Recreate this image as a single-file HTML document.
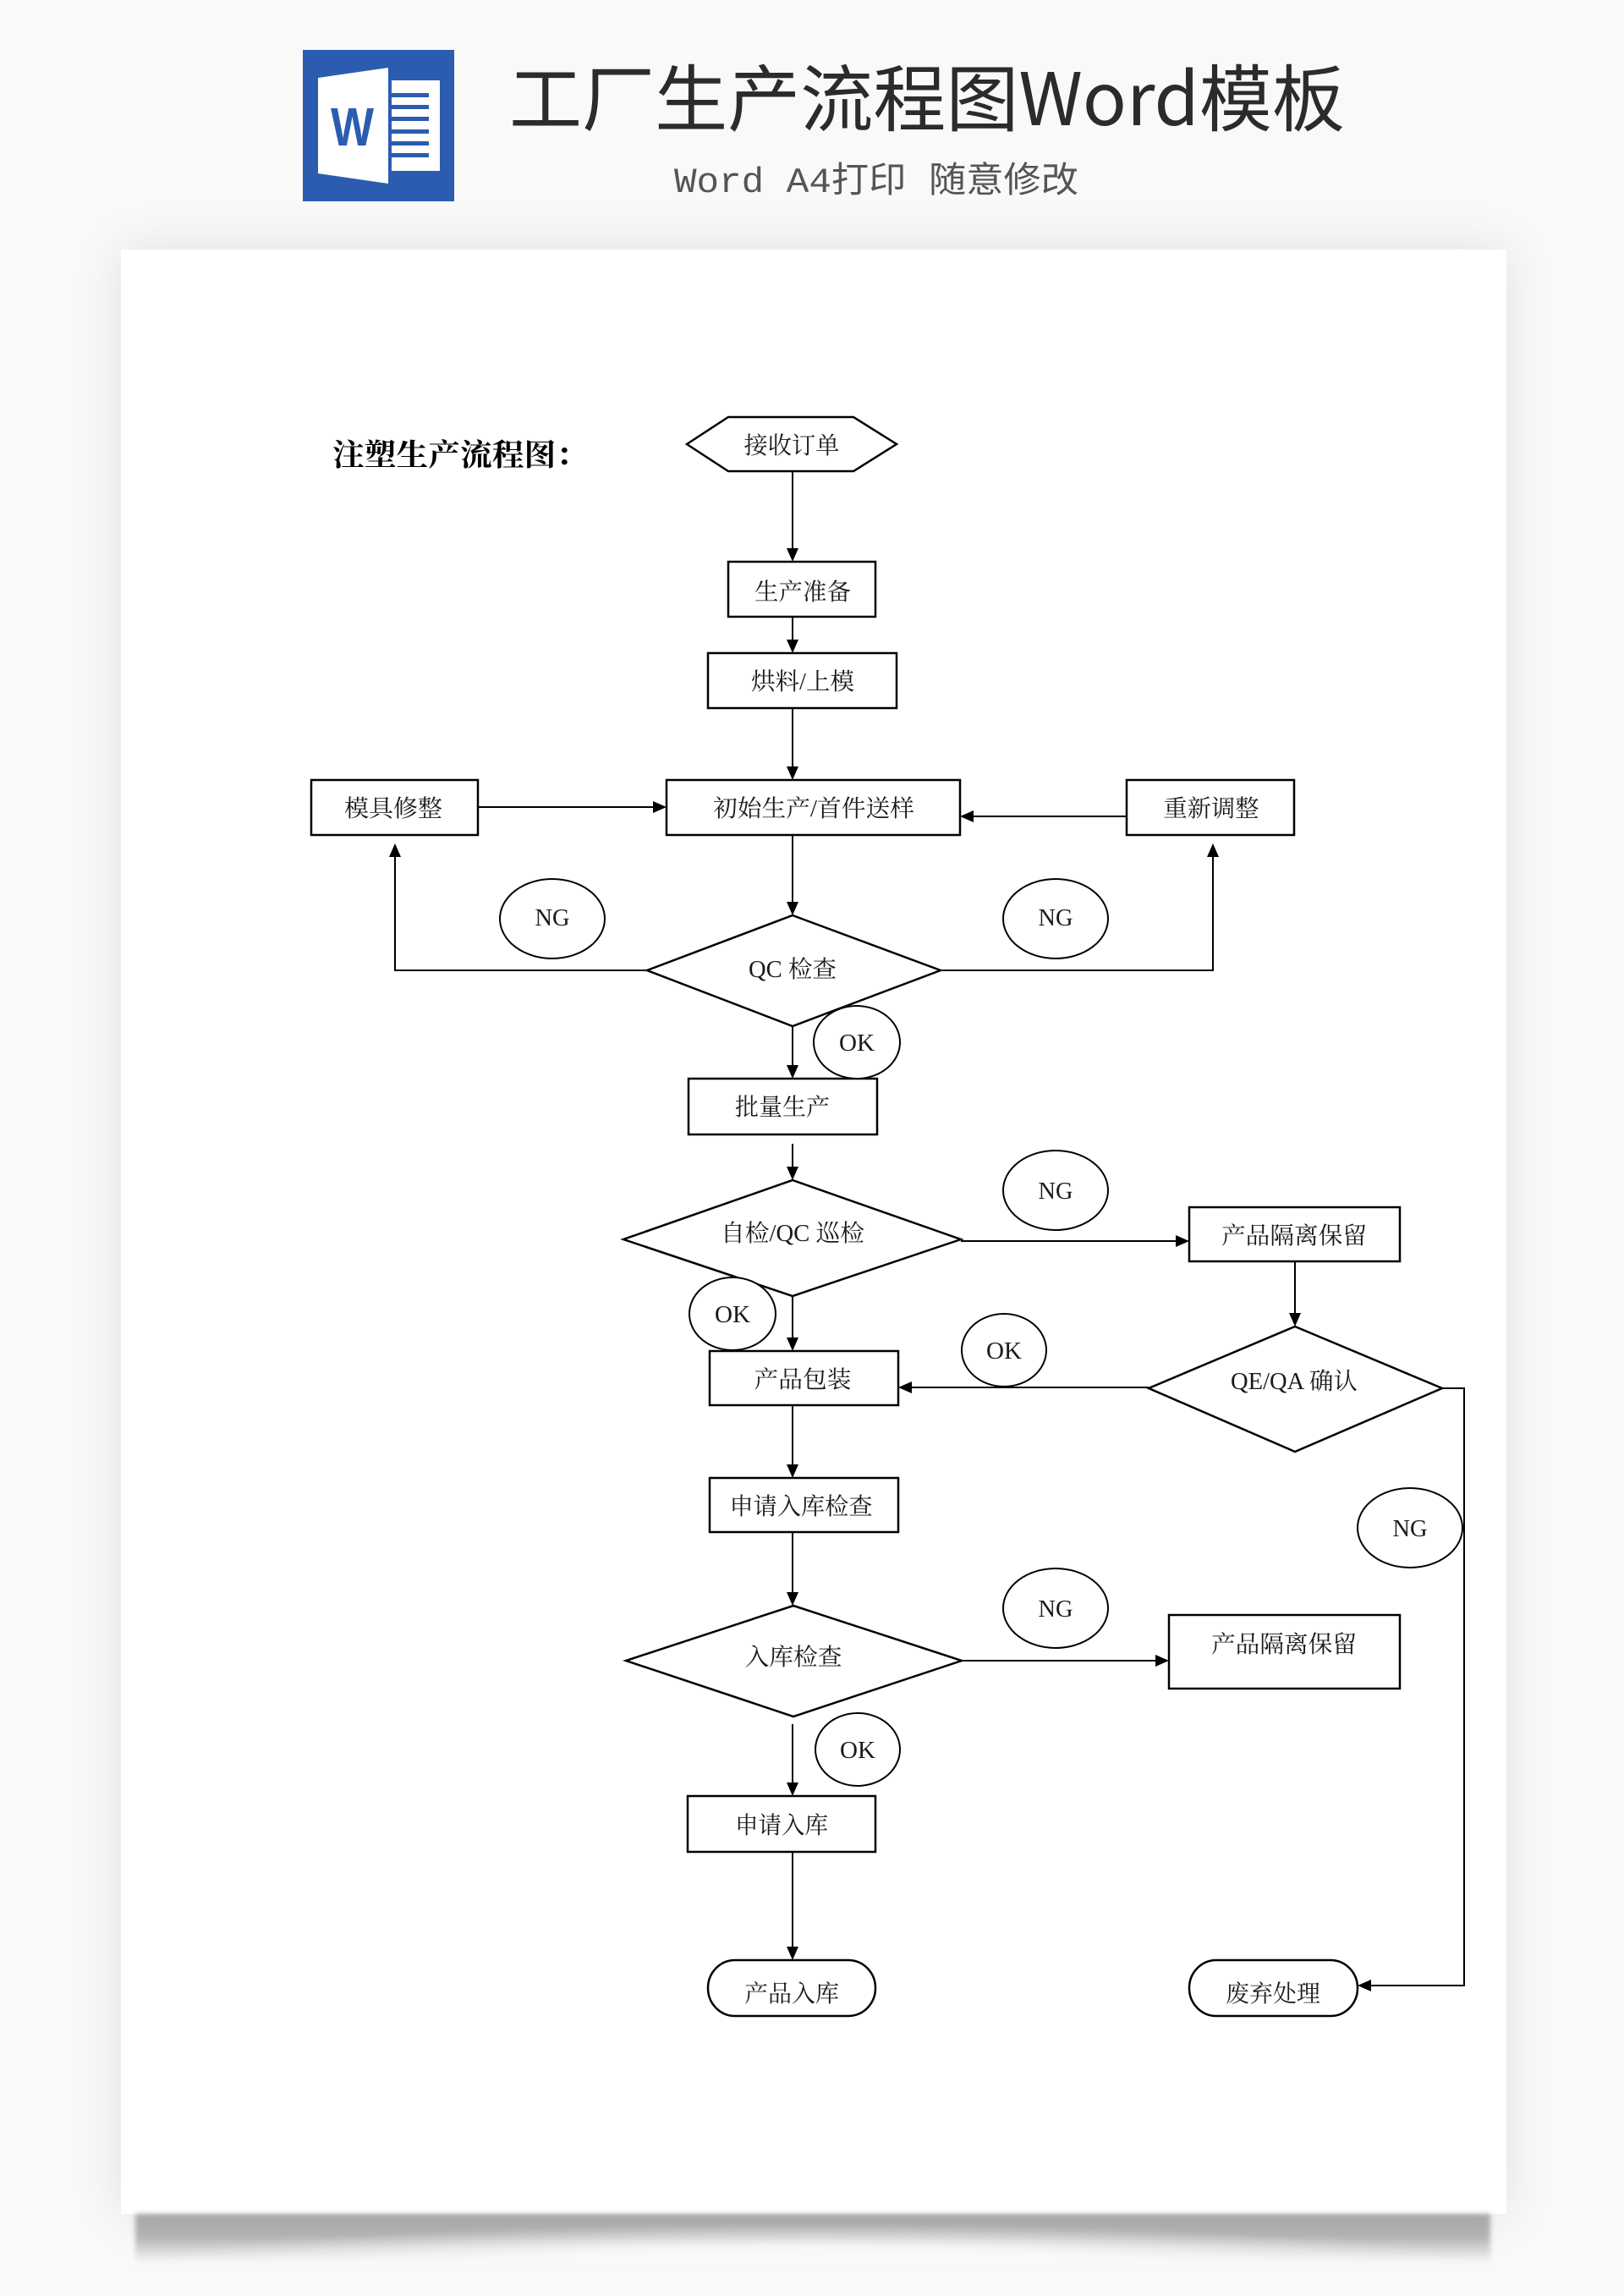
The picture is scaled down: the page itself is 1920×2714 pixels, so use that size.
<!DOCTYPE html>
<html>
<head>
<meta charset="utf-8">
<style>
  html, body { margin:0; padding:0; }
  body { width:1920px; height:2714px; background:#f9f9f8; position:relative; overflow:hidden; }
  .paper { position:absolute; left:143px; top:295px; width:1638px; height:2322px; background:#fff;
           box-shadow: 0 0 55px rgba(0,0,0,0.10); }
  .bshadow { position:absolute; left:160px; top:2617px; width:1602px; height:58px;
             background:
               radial-gradient(ellipse 52% 95% at 50% 115%, rgba(249,249,248,1) 45%, rgba(249,249,248,0) 100%),
               linear-gradient(to bottom, #a6a6a6 0%, #b2b2b2 45%, rgba(210,210,210,0) 100%);
             filter: blur(3px); }
  svg { position:absolute; left:0; top:0; }
</style>
</head>
<body>
<div class="paper"></div>
<div class="bshadow"></div>
<svg width="1920" height="2714" viewBox="0 0 1920 2714" xmlns="http://www.w3.org/2000/svg">
  <!-- Word icon -->
  <rect x="358" y="59" width="179" height="179" fill="#2b5caf"/>
  <rect x="463" y="95" width="57" height="107" fill="#ffffff"/>
  <g fill="#2b5caf">
    <rect x="463" y="110" width="44" height="5"/>
    <rect x="463" y="124" width="44" height="5"/>
    <rect x="463" y="138" width="44" height="5"/>
    <rect x="463" y="153" width="44" height="5"/>
    <rect x="463" y="167" width="44" height="5"/>
    <rect x="463" y="181" width="44" height="5"/>
  </g>
  <polygon points="376,92 459,80 459,217 376,205" fill="#ffffff"/>
  <text x="391" y="172" font-family="Liberation Sans, sans-serif" font-weight="bold" font-size="64" fill="#2b5caf" textLength="51" lengthAdjust="spacingAndGlyphs">W</text>

  <!-- Title -->
  <text x="602" y="148" font-family="Noto Sans CJK SC, Liberation Sans, sans-serif" font-size="86" fill="#2b2b2b" textLength="988" lengthAdjust="spacingAndGlyphs">工厂生产流程图Word模板</text>
  <text x="797" y="227" font-family="Liberation Mono, Noto Sans CJK SC, monospace" font-size="42" fill="#555555" textLength="478" lengthAdjust="spacingAndGlyphs">Word A4打印 随意修改</text>

  <!-- Heading -->
  <text x="393" y="550" font-family="Liberation Serif, Noto Serif CJK SC, serif" font-weight="bold" font-size="36" fill="#000" textLength="302" lengthAdjust="spacingAndGlyphs">注塑生产流程图：</text>

  <!-- Connectors -->
  <g stroke="#000" stroke-width="2" fill="none">
    <line x1="937" y1="557" x2="937" y2="650"/>
    <line x1="937" y1="729" x2="937" y2="758"/>
    <line x1="937" y1="837" x2="937" y2="908"/>
    <line x1="565" y1="954" x2="774" y2="954"/>
    <line x1="1332" y1="965" x2="1149" y2="965"/>
    <line x1="937" y1="987" x2="937" y2="1068"/>
    <polyline points="765,1147 467,1147 467,1011"/>
    <polyline points="1112,1147 1434,1147 1434,1011"/>
    <line x1="937" y1="1213" x2="937" y2="1261"/>
    <line x1="937" y1="1352" x2="937" y2="1381"/>
    <line x1="1136" y1="1467" x2="1392" y2="1467"/>
    <line x1="937" y1="1532" x2="937" y2="1583"/>
    <line x1="1531" y1="1491" x2="1531" y2="1554"/>
    <line x1="1358" y1="1640" x2="1076" y2="1640"/>
    <polyline points="1705,1641 1731,1641 1731,2347 1619,2347"/>
    <line x1="937" y1="1661" x2="937" y2="1733"/>
    <line x1="937" y1="1811" x2="937" y2="1884"/>
    <line x1="1137" y1="1963" x2="1368" y2="1963"/>
    <line x1="937" y1="2038" x2="937" y2="2109"/>
    <line x1="937" y1="2189" x2="937" y2="2303"/>
  </g>
  <!-- Arrowheads -->
  <g fill="#000">
    <polygon points="930,648 944,648 937,664"/>
    <polygon points="930,756 944,756 937,772"/>
    <polygon points="930,906 944,906 937,922"/>
    <polygon points="772,947 772,961 788,954"/>
    <polygon points="1151,958 1151,972 1135,965"/>
    <polygon points="930,1066 944,1066 937,1082"/>
    <polygon points="460,1013 474,1013 467,997"/>
    <polygon points="1427,1013 1441,1013 1434,997"/>
    <polygon points="930,1259 944,1259 937,1275"/>
    <polygon points="930,1379 944,1379 937,1395"/>
    <polygon points="1390,1460 1390,1474 1406,1467"/>
    <polygon points="930,1581 944,1581 937,1597"/>
    <polygon points="1524,1552 1538,1552 1531,1568"/>
    <polygon points="1078,1633 1078,1647 1062,1640"/>
    <polygon points="1621,2340 1621,2354 1605,2347"/>
    <polygon points="930,1731 944,1731 937,1747"/>
    <polygon points="930,1882 944,1882 937,1898"/>
    <polygon points="1366,1956 1366,1970 1382,1963"/>
    <polygon points="930,2107 944,2107 937,2123"/>
    <polygon points="930,2301 944,2301 937,2317"/>
  </g>

  <!-- Shapes -->
  <g stroke="#000" stroke-width="2.5" fill="#fff">
    <polygon points="812,525 861,493 1009,493 1060,525 1009,557 861,557"/>
    <rect x="861" y="664" width="174" height="65"/>
    <rect x="837" y="772" width="223" height="65"/>
    <rect x="368" y="922" width="197" height="65"/>
    <rect x="788" y="922" width="347" height="65"/>
    <rect x="1332" y="922" width="198" height="65"/>
    <polygon points="937,1082 1112,1147 937,1213 765,1147"/>
    <rect x="814" y="1275" width="223" height="66"/>
    <polygon points="937,1395 1136,1465 937,1532 737,1465"/>
    <rect x="1406" y="1427" width="249" height="64"/>
    <rect x="839" y="1597" width="223" height="64"/>
    <polygon points="1531,1568 1705,1641 1531,1716 1358,1641"/>
    <rect x="839" y="1747" width="223" height="64"/>
    <polygon points="938,1898 1137,1963 938,2029 740,1963"/>
    <rect x="1382" y="1909" width="273" height="87"/>
    <rect x="813" y="2123" width="222" height="66"/>
    <rect x="837" y="2317" width="198" height="66" rx="32" ry="33"/>
    <rect x="1406" y="2317" width="199" height="66" rx="32" ry="33"/>
  </g>
  <!-- NG / OK ellipses -->
  <g stroke="#000" stroke-width="2" fill="#fff">
    <ellipse cx="653" cy="1086" rx="62" ry="47"/>
    <ellipse cx="1248" cy="1086" rx="62" ry="47"/>
    <ellipse cx="1013" cy="1232" rx="51" ry="43"/>
    <ellipse cx="1248" cy="1407" rx="62" ry="47"/>
    <ellipse cx="866" cy="1553" rx="51" ry="43"/>
    <ellipse cx="1187" cy="1596" rx="50" ry="43"/>
    <ellipse cx="1667" cy="1806" rx="62" ry="47"/>
    <ellipse cx="1248" cy="1901" rx="62" ry="47"/>
    <ellipse cx="1014" cy="2068" rx="50" ry="43"/>
  </g>

  <!-- Labels -->
  <g font-family="Liberation Serif, Noto Serif CJK SC, serif" font-size="28" fill="#1a1a1a" text-anchor="middle">
    <text x="936" y="536" textLength="113" lengthAdjust="spacingAndGlyphs">接收订单</text>
    <text x="949" y="709" textLength="114" lengthAdjust="spacingAndGlyphs">生产准备</text>
    <text x="949" y="815" textLength="122" lengthAdjust="spacingAndGlyphs">烘料/上模</text>
    <text x="465" y="965" textLength="116" lengthAdjust="spacingAndGlyphs">模具修整</text>
    <text x="962" y="965" textLength="238" lengthAdjust="spacingAndGlyphs">初始生产/首件送样</text>
    <text x="1432" y="965" textLength="113" lengthAdjust="spacingAndGlyphs">重新调整</text>
    <text x="937" y="1155" textLength="104" lengthAdjust="spacingAndGlyphs">QC 检查</text>
    <text x="653" y="1094" textLength="41" lengthAdjust="spacingAndGlyphs">NG</text>
    <text x="1248" y="1094" textLength="41" lengthAdjust="spacingAndGlyphs">NG</text>
    <text x="1013" y="1242" textLength="42" lengthAdjust="spacingAndGlyphs">OK</text>
    <text x="925" y="1318" textLength="112" lengthAdjust="spacingAndGlyphs">批量生产</text>
    <text x="1248" y="1417" textLength="41" lengthAdjust="spacingAndGlyphs">NG</text>
    <text x="937" y="1467" textLength="170" lengthAdjust="spacingAndGlyphs">自检/QC 巡检</text>
    <text x="1530" y="1470" textLength="172" lengthAdjust="spacingAndGlyphs">产品隔离保留</text>
    <text x="866" y="1563" textLength="42" lengthAdjust="spacingAndGlyphs">OK</text>
    <text x="1187" y="1606" textLength="42" lengthAdjust="spacingAndGlyphs">OK</text>
    <text x="949" y="1640" textLength="115" lengthAdjust="spacingAndGlyphs">产品包装</text>
    <text x="1530" y="1642" textLength="150" lengthAdjust="spacingAndGlyphs">QE/QA 确认</text>
    <text x="947" y="1790" textLength="169" lengthAdjust="spacingAndGlyphs">申请入库检查</text>
    <text x="1667" y="1816" textLength="41" lengthAdjust="spacingAndGlyphs">NG</text>
    <text x="1248" y="1911" textLength="41" lengthAdjust="spacingAndGlyphs">NG</text>
    <text x="938" y="1968" textLength="115" lengthAdjust="spacingAndGlyphs">入库检查</text>
    <text x="1518" y="1953" textLength="172" lengthAdjust="spacingAndGlyphs">产品隔离保留</text>
    <text x="1014" y="2078" textLength="42" lengthAdjust="spacingAndGlyphs">OK</text>
    <text x="924" y="2167" textLength="110" lengthAdjust="spacingAndGlyphs">申请入库</text>
    <text x="936" y="2366" textLength="112" lengthAdjust="spacingAndGlyphs">产品入库</text>
    <text x="1505" y="2366" textLength="112" lengthAdjust="spacingAndGlyphs">废弃处理</text>
  </g>
</svg>
</body>
</html>
